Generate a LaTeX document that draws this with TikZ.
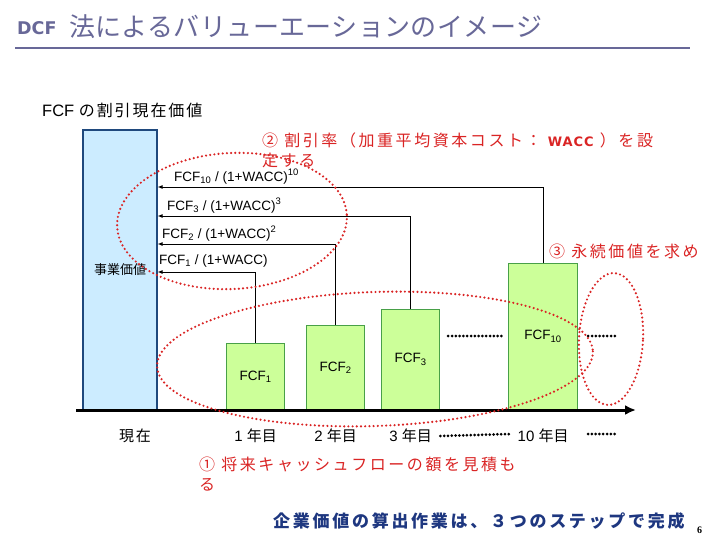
\documentclass[tikz,border=0pt]{standalone}
\usepackage{fontspec}
\setmainfont{Liberation Sans}
\newfontfamily\jp{Noto Sans CJK JP}
\newfontfamily\jpsp[LetterSpace=12]{Noto Sans CJK JP}
\newfontfamily\jpwide[LetterSpace=16]{Noto Sans CJK JP}
\newfontfamily\jptitle[LetterSpace=1.5]{Noto Sans CJK JP}
\newfontfamily\heavy{DejaVu Sans}
\newfontfamily\heavywide[LetterSpace=8]{DejaVu Sans}
\newfontfamily\pgnum{Liberation Serif}
\usepackage{tikz}
\usetikzlibrary{arrows.meta}

\definecolor{titleblue}{RGB}{104,104,152}
\definecolor{barblue}{RGB}{204,236,255}
\definecolor{barblueline}{RGB}{31,73,125}
\definecolor{cfgreen}{RGB}{204,255,153}
\definecolor{cfgreenline}{RGB}{72,160,72}
\definecolor{markred}{RGB}{218,36,36}
\definecolor{stepblue}{RGB}{30,55,128}

\newcommand{\fcf}[1]{FCF\textsubscript{#1}}

\tikzset{
  cfbar/.style={draw=cfgreenline, fill=cfgreen, line width=1.2pt, minimum width=58pt,
    anchor=south west, font=\fontsize{13.5}{15}\selectfont},
  pvline/.style={line width=0.9pt, -{Latex[length=5pt,width=4pt]}},
  pvlabel/.style={anchor=south west, inner sep=1pt, font=\fontsize{13.5}{15}\selectfont},
  redring/.style={draw=markred, line width=2.4pt, line cap=round, dash pattern=on 0pt off 4.2pt},
  gapdots/.style={line width=3pt, line cap=round, dash pattern=on 0pt off 3.8pt},
  yearlabel/.style={font=\fontsize{15}{17}\selectfont},
  note/.style={text=markred, anchor=west, align=left, inner sep=0pt,
    font=\jpwide\fontsize{16}{20}\selectfont}
}

\begin{document}
\begin{tikzpicture}[x=1pt, y=-1pt]
    \useasboundingbox[fill=white] (0,0) rectangle (728,546);
    % title
    \node[anchor=base west, text=titleblue, inner sep=0pt, font=\heavy\bfseries\fontsize{17.5}{18}\selectfont] (tag) at (17,34.5) {DCF};
    \node[anchor=base west, text=titleblue, inner sep=0pt, font=\jptitle\fontsize{26}{28}\selectfont] (title) at (69,36)
        {法によるバリューエーションのイメージ};
    \draw[titleblue, line width=2pt] (15,48) -- (690,48);
    \node[anchor=west, inner sep=0pt, font=\fontsize{16.5}{18}\selectfont] (pvhead) at (42,110)
        {FCF {\jpsp\fontsize{16}{18}\selectfont の割引現在価値}};

    % business value and cash flows
    \node[draw=barblueline, fill=barblue, line width=1.2pt, minimum width=74pt, minimum height=280pt,
        font=\jp\fontsize{13}{15}\selectfont] (ev) at (120,270) {事業価値};
    \node[cfbar, minimum height=66pt] (b1) at (226,410) {\fcf{1}};
    \node[cfbar, minimum height=84pt] (b2) at (306,410) {\fcf{2}};
    \node[cfbar, minimum height=100pt] (b3) at (381,410) {\fcf{3}};
    \node[cfbar, minimum height=146pt, minimum width=69pt] (b10) at (508,410) {\fcf{10}};
    \coordinate (t0) at (76,410);
    \coordinate (tend) at (636,410);
    \draw[line width=3pt, -{Latex[length=11pt,width=10pt]}] (t0) -- (tend);
    \draw[gapdots] (b3.south east |- 0,336) ++(8,0) -- (505,336);
    \draw[gapdots] (b10.south east |- 0,336) ++(10,0) -- (615,336);

    % discounting
    \draw[pvline] (b10.north) |- (ev.east |- 0,187);
    \draw[pvline] (b3.north) |- (ev.east |- 0,216);
    \draw[pvline] (b2.north) |- (ev.east |- 0,244);
    \draw[pvline] (b1.north) |- (ev.east |- 0,272);
    \node[pvlabel] (l10) at (173,185) {\fcf{10} / (1+WACC)\textsuperscript{10}};
    \node[pvlabel] (l3) at (166,214) {\fcf{3} / (1+WACC)\textsuperscript{3}};
    \node[pvlabel] (l2) at (161,242) {\fcf{2} / (1+WACC)\textsuperscript{2}};
    \node[pvlabel] (l1) at (158,268) {\fcf{1} / (1+WACC)};

    % years
    \node[yearlabel] (y0) at (135,436) {\jpsp\fontsize{15}{17}\selectfont 現在};
    \node[yearlabel] (y1) at (b1.south |- 0,436) {1 {\jp 年目}};
    \node[yearlabel] (y2) at (b2.south |- 0,436) {2 {\jp 年目}};
    \node[yearlabel] (y3) at (b3.south |- 0,436) {3 {\jp 年目}};
    \node[yearlabel] (y10) at (b10.south |- 0,436) {10 {\jp 年目}};
    \draw[gapdots] (y3.east) ++(5,0) -- (510,434);
    \draw[gapdots] (588,434) -- (615,434);

    % the three steps
    \draw[redring, rotate around={3:(232,221)}] (232,221) ellipse [x radius=115, y radius=68];
    \draw[redring, rotate around={2:(375,359)}] (375,359) ellipse [x radius=218, y radius=67];
    \draw[redring, rotate around={-3:(611,339)}] (611,339) ellipse [x radius=32, y radius=66];
    \node[note, anchor=north west] (s2) at (262,133)
        {② 割引率（加重平均資本コスト： {\heavywide\bfseries\fontsize{13}{13}\selectfont WACC} ）を設\\定する};
    \node[note] (s3) at (549,251) {③ 永続価値を求め};
    \node[note, anchor=north west] (s1) at (199,457) {① 将来キャッシュフローの額を見積も\\る};
    \node[anchor=west, inner sep=0pt, text=stepblue, font=\jpwide\bfseries\fontsize{17}{19}\selectfont] (steps) at (273,521)
        {企業価値の算出作業は、３つのステップで完成};
    \node[anchor=west, inner sep=0pt, font=\pgnum\bfseries\fontsize{10}{10}\selectfont] (page) at (697,530) {6};
\end{tikzpicture}
\end{document}
